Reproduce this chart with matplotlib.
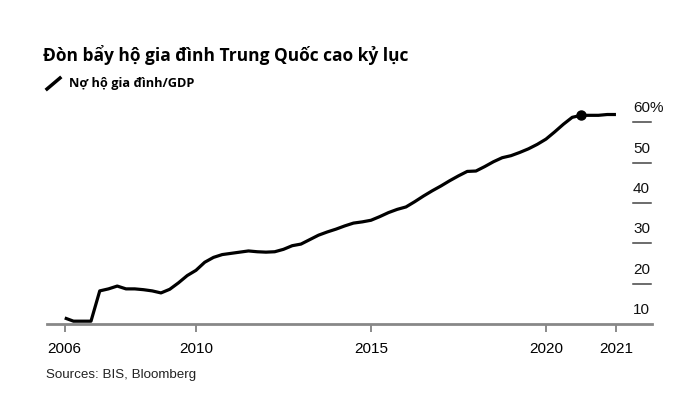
import numpy as np
import matplotlib.pyplot as plt
from matplotlib.lines import Line2D

# Household debt / GDP (%), quarterly 2006Q1 - 2021Q4
debt_gdp = [11.5, 10.7, 10.7, 10.7, 18.2, 18.7, 19.4, 18.7,
            18.7, 18.5, 18.2, 17.7, 18.6, 20.2, 22.0, 23.3,
            25.3, 26.5, 27.2, 27.5, 27.8, 28.1, 27.9, 27.8,
            27.9, 28.5, 29.4, 29.8, 30.9, 32.0, 32.8, 33.5,
            34.3, 35.0, 35.3, 35.7, 36.6, 37.6, 38.4, 39.0,
            40.3, 41.7, 43.0, 44.2, 45.5, 46.7, 47.8, 47.9,
            49.0, 50.2, 51.2, 51.7, 52.5, 53.4, 54.5, 55.8,
            57.6, 59.5, 61.2, 61.7, 61.7, 61.7, 61.9, 61.9]
start_year = 2006
highlight_idx = 59  # 2020Q4
y_ticks = [10, 20, 30, 40, 50, 60]
y_labels = ['10', '20', '30', '40', '50', '60%']
x_tick_labels = ['2006', '2010', '2015', '2020', '2021']

# quarter-end positions in fractional years
x = start_year + 0.25 + 0.25 * np.arange(len(debt_gdp))

fig = plt.figure(figsize=(6.82, 3.96), dpi=100)
ax = fig.add_axes([47 / 682, 1 - 324 / 396, 605 / 682, 222 / 396])

ax.plot(x, debt_gdp, color='black', lw=2.3, solid_capstyle='butt', zorder=3)
ax.plot(x[highlight_idx], debt_gdp[highlight_idx], 'o', color='black', ms=6.5, zorder=4)

ax.set_xlim(2005.743, 2023.03)
ax.set_ylim(10, 65)

# x ticks: first and last data points plus round years
x_ticks = [x[0], 2010, 2015, 2020, x[-1]]
ax.set_xticks(x_ticks)
ax.set_xticklabels(x_tick_labels, fontfamily='Liberation Sans', fontsize=11)
ax.tick_params(axis='x', length=6, width=1.2, color='#777777', pad=7)
ax.set_yticks([])

for s in ['top', 'right', 'left']:
    ax.spines[s].set_visible(False)
ax.spines['bottom'].set_color('#888888')
ax.spines['bottom'].set_linewidth(2)

# right-hand short grid dashes with labels above
for v, lab in zip(y_ticks, y_labels):
    if v > 10:
        ax.plot([2022.49, 2023.0], [v, v], color='#444444', lw=1.1, clip_on=False)
    ax.text(2022.49, v + 1.7, lab, fontfamily='Liberation Sans', fontsize=11,
            ha='left', va='bottom', color='#111111')

fig.text(43 / 682, 1 - 55 / 396, 'Đòn bẩy hộ gia đình Trung Quốc cao kỷ lục',
         fontfamily='Open Sans', fontweight='bold', fontsize=12.5, va='center', ha='left')

fig.add_artist(Line2D([47 / 682, 60 / 682], [1 - 89 / 396, 1 - 78 / 396],
                      color='black', lw=2.5))
fig.text(69 / 682, 1 - 83 / 396, 'Nợ hộ gia đình/GDP',
         fontfamily='Open Sans', fontweight='bold', fontsize=9.2, va='center', ha='left')

fig.text(46 / 682, 1 - 375 / 396, 'Sources: BIS, Bloomberg',
         fontfamily='Liberation Sans', fontsize=9.6, va='center', ha='left', color='#222222')

fig.savefig('out.png', dpi=100)
